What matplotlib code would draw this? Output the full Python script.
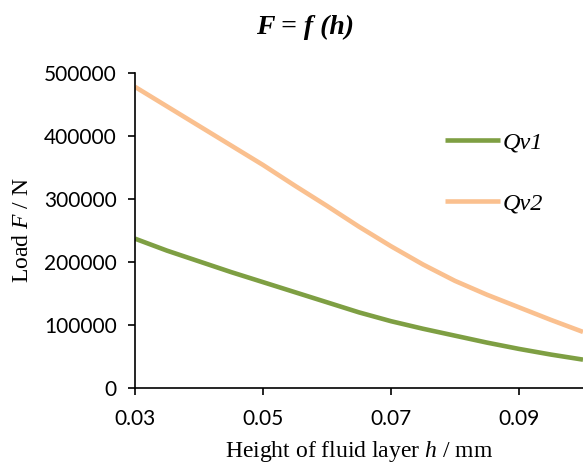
import matplotlib
matplotlib.use('Agg')
import matplotlib.pyplot as plt

plt.rcParams['mathtext.fontset'] = 'custom'
plt.rcParams['mathtext.it'] = 'Liberation Serif:italic'
plt.rcParams['mathtext.rm'] = 'Liberation Serif'

# values
h = [0.03, 0.035, 0.04, 0.045, 0.05, 0.055, 0.06, 0.065, 0.07,
     0.075, 0.08, 0.085, 0.09, 0.095, 0.10]
qv1 = [237000, 218000, 201000, 184000, 168000, 152000, 136000, 120000, 106000,
       94000, 83000, 72000, 62000, 53000, 45000]
qv2 = [478000, 447000, 416000, 385000, 354000, 321000, 289000, 256000, 225000,
       196000, 170000, 148000, 128000, 108000, 89000]
x_ticks = [0.03, 0.05, 0.07, 0.09]
y_ticks = [0, 100000, 200000, 300000, 400000, 500000]

serif = 'Liberation Serif'
sans = 'Lato'

fig = plt.figure(figsize=(5.83, 4.68), dpi=100)
ax = fig.add_axes([0.2316, 0.171, 0.7684, 0.673])

ax.plot(h, qv1, color='#7E9F43', lw=3.3, label='Qv1', solid_capstyle='butt')
ax.plot(h, qv2, color='#FAC08F', lw=3.3, label='Qv2', solid_capstyle='butt')

ax.set_xlim(0.03, 0.1)
ax.set_ylim(0, 500000)
ax.set_xticks(x_ticks)
ax.set_xticklabels([f'{v:.2f}' for v in x_ticks], fontfamily=sans, fontsize=15)
ax.set_yticks(y_ticks)
ax.set_yticklabels([str(v) for v in y_ticks], fontfamily=sans, fontsize=15)

for s in ['top', 'right']:
    ax.spines[s].set_visible(False)
for s in ['left', 'bottom']:
    ax.spines[s].set_linewidth(1.2)
    ax.spines[s].set_clip_on(False)
ax.tick_params(axis='both', direction='out', length=5, width=1.2)
ax.tick_params(axis='x', pad=10)
ax.tick_params(axis='y', pad=8)

ax.set_xlabel('Height of fluid layer $\\mathit{h}$ / mm', fontfamily=serif, fontsize=17, labelpad=7)
ax.set_ylabel('Load $\\mathit{F}$ / N', fontfamily=serif, fontsize=17, labelpad=8)

fig.text(0.523, 0.942, 'F = f (h)', ha='center', va='center', fontfamily=serif,
         fontsize=20, fontweight='bold', fontstyle='italic')

ax.legend(loc='upper left', bbox_to_anchor=(0.692, 0.815), frameon=False,
          prop={'family': serif, 'style': 'italic', 'size': 17.5},
          handlelength=2.26, handletextpad=0.12, labelspacing=1.6,
          borderpad=0, borderaxespad=0)

fig.savefig('out.png', dpi=100, facecolor='white')
